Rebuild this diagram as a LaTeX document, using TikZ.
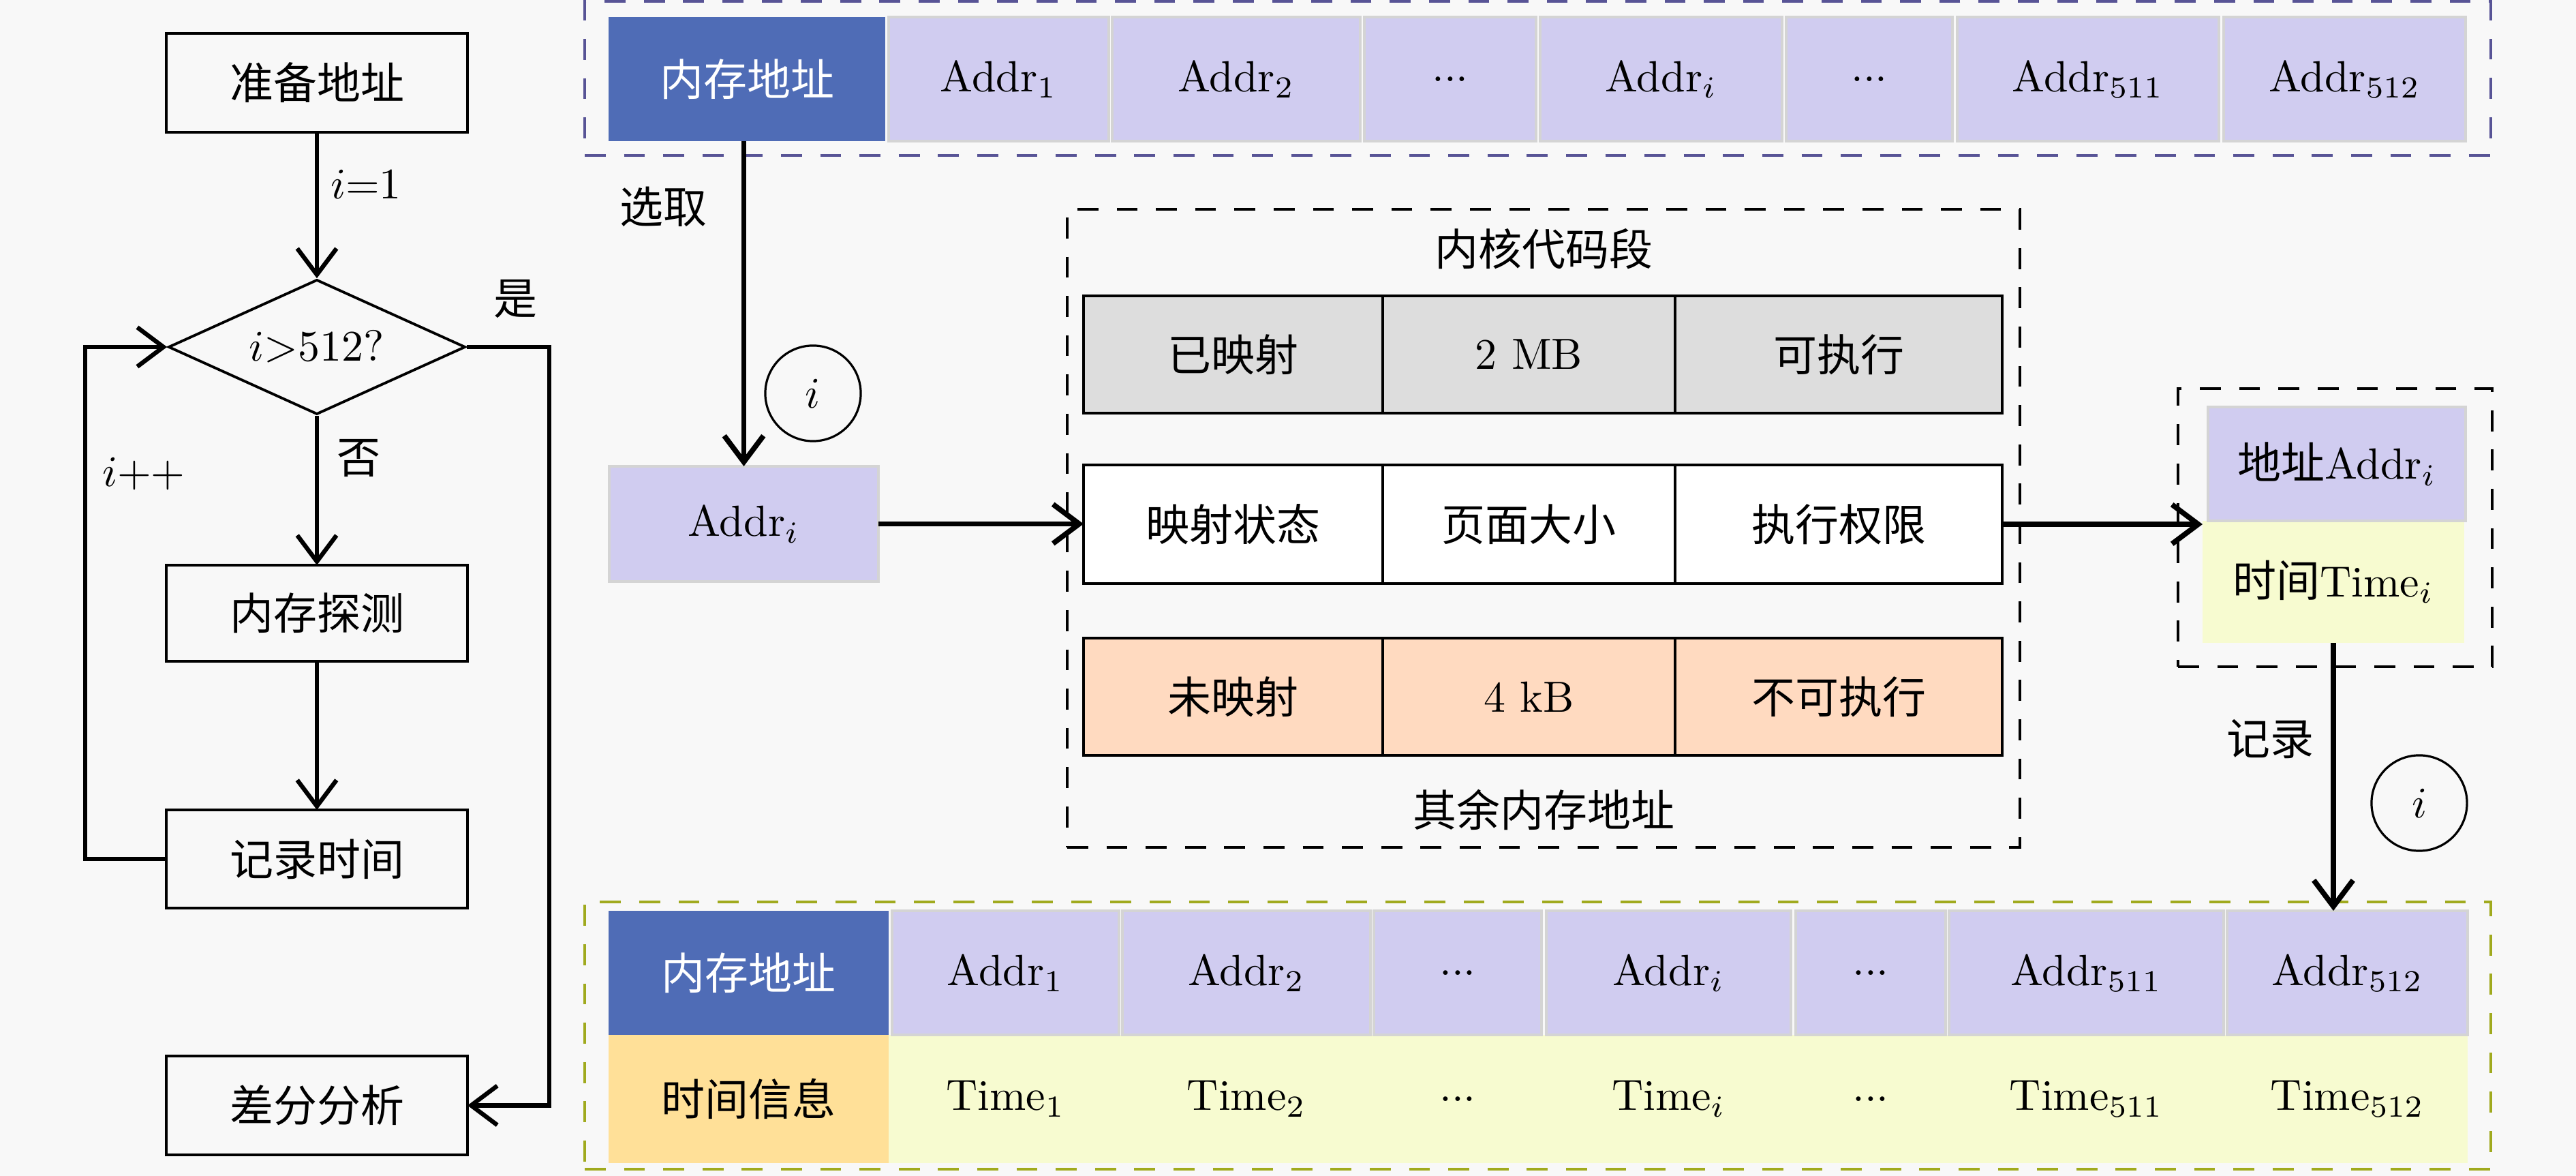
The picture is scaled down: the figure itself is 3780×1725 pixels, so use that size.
\documentclass[tikz,border=0pt]{standalone}
\usepackage{fontspec}
\newfontfamily\cjk{Noto Sans CJK SC}
\usetikzlibrary{arrows.meta,shapes.geometric,calc}
\definecolor{bgc}{RGB}{248,248,248}
\definecolor{hdr}{RGB}{79,108,182}
\definecolor{lav}{RGB}{208,204,240}
\definecolor{ltime}{RGB}{247,251,208}
\definecolor{tinfo}{RGB}{255,224,152}
\definecolor{gcell}{RGB}{221,221,221}
\definecolor{peach}{RGB}{255,218,192}
\definecolor{dashA}{RGB}{88,84,150}
\definecolor{dashB}{RGB}{160,170,30}
\definecolor{cellline}{RGB}{212,212,212}
\newcommand{\bx}[7]{%
  \node[#6, minimum width={(#4-#2)*0.15625pt}, minimum height={(#5-#3)*0.15625pt}] (#1) at ({(#2+#4)/2},{(#3+#5)/2}) {#7};}
\tikzset{
  cellbase/.style={inner sep=0pt, outer sep=0pt, rectangle, align=center},
  hdrcell/.style={cellbase, fill=hdr, text=white},
  lavcell/.style={cellbase, fill=lav, draw=cellline, line width=0.6pt},
  timecell/.style={cellbase, fill=ltime},
  infocell/.style={cellbase, fill=tinfo},
  fbox/.style={cellbase, draw=black, line width=0.6pt},
  tcell/.style={cellbase, draw=black, line width=0.7pt},
  dbox/.style={cellbase, draw=black, line width=0.6pt, dash pattern=on 4.8pt off 4.2pt},
  dboxA/.style={cellbase, draw=dashA, line width=0.6pt, dash pattern=on 4.8pt off 4.2pt},
  dboxB/.style={cellbase, draw=dashB, line width=0.6pt, dash pattern=on 4.8pt off 4.2pt},
  farrow/.style={line width=1pt, -{Straight Barb[length=6pt,width=9pt,line width=1pt]}},
  fline/.style={line width=1pt},
  marrow/.style={line width=1.2pt, -{Straight Barb[length=6pt,width=9pt,line width=1.2pt]}},
  lbl/.style={inner sep=0pt},
  circ/.style={circle, draw=black, line width=0.5pt, minimum size=21.9pt, inner sep=0pt},
}
\begin{document}
\begin{tikzpicture}[x=0.15625pt,y=-0.15625pt]
\useasboundingbox (0,0) rectangle (3780,1725);
\fill[bgc] (0,0) rectangle (3780,1725);

% ---------- flowchart ----------
\bx{prep}{244}{49}{686}{194}{fbox}{{\cjk 准备地址}}
\node[diamond, draw=black, line width=0.6pt, inner sep=0pt, aspect=2.2,
      minimum width=68.1pt, minimum height=30.9pt] (dec) at (465,509) {$i{>}512?$};
\bx{probe}{244}{829}{686}{970}{fbox}{{\cjk 内存探测}}
\bx{rec}{244}{1188}{686}{1332}{fbox}{{\cjk 记录时间}}
\bx{diff}{244}{1549}{686}{1694}{fbox}{{\cjk 差分分析}}
\coordinate (lx) at (125,0);
\coordinate (rx) at (806,0);
\draw[farrow] (prep.south) -- (dec.north);
\draw[farrow] (dec.south) -- (probe.north);
\draw[farrow] (probe.south) -- (rec.north);
\draw[farrow] (rec.west) -- (rec.west -| lx) |- (dec.west);
\draw[farrow] (dec.east) -- (dec.east -| rx) |- (diff.east);
\node[lbl] (li1) at (537,270) {$i{=}1$};
\node[lbl] (lyes) at (756,439) {{\cjk 是}};
\node[lbl] (lno) at (526,672) {{\cjk 否}};
\node[lbl] (lpp) at (211,695) {$i{+}{+}$};

% ---------- top table ----------
\bx{topbox}{858}{2}{3655}{228}{dboxA}{}
\bx{tmem}{893}{25}{1299}{207}{hdrcell}{{\cjk 内存地址}}
\bx{ta1}{1304}{25}{1627}{207}{lavcell}{Addr$_1$}
\bx{ta2}{1632}{25}{1996}{207}{lavcell}{Addr$_2$}
\bx{td1}{2002}{25}{2254}{207}{lavcell}{...}
\bx{tai}{2260}{25}{2615}{207}{lavcell}{Addr$_i$}
\bx{td2}{2621}{25}{2865}{207}{lavcell}{...}
\bx{ta511}{2872}{25}{3256}{207}{lavcell}{Addr$_{511}$}
\bx{ta512}{3263}{25}{3618}{207}{lavcell}{Addr$_{512}$}

% ---------- selected address ----------
\bx{addri}{894}{684}{1289}{853}{lavcell}{Addr$_i$}
\draw[marrow] (addri.north |- tmem.south) -- (addri.north);
\node[lbl] (lsel) at (973,303) {{\cjk 选取}};
\node[circ] (c1) at (1193,577) {$i$};

% ---------- kernel box ----------
\bx{kbox}{1566}{307}{2964}{1243}{dbox}{}
\node[lbl] (ktitle) at (2265,365) {{\cjk 内核代码段}};
\node[lbl] (kfoot) at (2265,1188) {{\cjk 其余内存地址}};
\bx{r1a}{1590}{434}{2029}{606}{tcell, fill=gcell}{{\cjk 已映射}}
\bx{r1b}{2029}{434}{2458}{606}{tcell, fill=gcell}{2 MB}
\bx{r1c}{2458}{434}{2938}{606}{tcell, fill=gcell}{{\cjk 可执行}}
\bx{r2a}{1590}{682}{2029}{856}{tcell, fill=white}{{\cjk 映射状态}}
\bx{r2b}{2029}{682}{2458}{856}{tcell, fill=white}{{\cjk 页面大小}}
\bx{r2c}{2458}{682}{2938}{856}{tcell, fill=white}{{\cjk 执行权限}}
\bx{r3a}{1590}{936}{2029}{1108}{tcell, fill=peach}{{\cjk 未映射}}
\bx{r3b}{2029}{936}{2458}{1108}{tcell, fill=peach}{4 kB}
\bx{r3c}{2458}{936}{2938}{1108}{tcell, fill=peach}{{\cjk 不可执行}}
\draw[marrow] (addri.east) -- (addri.east -| r2a.west);

% ---------- result ----------
\bx{resbox}{3196}{570}{3657}{978}{dbox}{}
\bx{resT}{3232}{764}{3616}{943}{timecell}{{\cjk 时间}Time$_i$}
\bx{resA}{3240}{597}{3618}{764}{lavcell}{{\cjk 地址}Addr$_i$}
\draw[marrow] (r2c.east) -- (r2c.east -| resT.west);
\node[lbl] (lrec) at (3331,1084) {{\cjk 记录}};
\node[circ] (c2) at (3550,1178) {$i$};

% ---------- bottom table ----------
\bx{botbox}{858}{1323}{3655}{1715}{dboxB}{}
\bx{btime}{1304}{1518}{3621}{1706}{timecell}{}
\bx{bmem}{893}{1336}{1304}{1518}{hdrcell}{{\cjk 内存地址}}
\bx{binfo}{893}{1518}{1304}{1706}{infocell}{{\cjk 时间信息}}
\bx{ba1}{1309}{1336}{1642}{1518}{lavcell}{Addr$_1$}
\bx{ba2}{1647}{1336}{2011}{1518}{lavcell}{Addr$_2$}
\bx{bd1}{2016}{1336}{2262}{1518}{lavcell}{...}
\bx{bai}{2269}{1336}{2628}{1518}{lavcell}{Addr$_i$}
\bx{bd2}{2635}{1336}{2855}{1518}{lavcell}{...}
\bx{ba511}{2860}{1336}{3263}{1518}{lavcell}{Addr$_{511}$}
\bx{ba512}{3268}{1336}{3621}{1518}{lavcell}{Addr$_{512}$}
\node[lbl] (bt1) at (ba1.center |- btime.center) {Time$_1$};
\node[lbl] (bt2) at (ba2.center |- btime.center) {Time$_2$};
\node[lbl] (bt3) at (bd1.center |- btime.center) {...};
\node[lbl] (bt4) at (bai.center |- btime.center) {Time$_i$};
\node[lbl] (bt5) at (bd2.center |- btime.center) {...};
\node[lbl] (bt6) at (ba511.center |- btime.center) {Time$_{511}$};
\node[lbl] (bt7) at (ba512.center |- btime.center) {Time$_{512}$};
\draw[marrow] (resT.south) -- (resT.south |- ba512.north);
\end{tikzpicture}
\end{document}
